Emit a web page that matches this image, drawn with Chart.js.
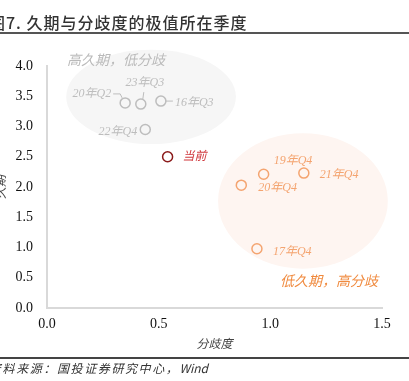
<!DOCTYPE html>
<html>
<head>
<meta charset="utf-8">
<script src="https://cdn.jsdelivr.net/npm/chart.js@4"></script>
<style>
  body { margin: 0; width: 409px; height: 381px; overflow: hidden; background: #fff; position: relative; }
  #chart { position: absolute; left: 0; top: 0; }
  .title { position: absolute; left: -11px; top: 10px; font: 500 16px "Noto Sans CJK SC"; letter-spacing: 1px; color: #333; white-space: nowrap; }
  .rule1 { position: absolute; left: 0; top: 32px; width: 409px; height: 2px; background: #555; }
  .rule2 { position: absolute; left: 0; top: 357px; width: 409px; height: 1.5px; background: #444; }
  .source { position: absolute; left: -11px; top: 359px; font: italic 12px "Noto Sans CJK SC"; letter-spacing: 1.6px; color: #333; white-space: nowrap; }
  .source span { letter-spacing: 0; }
</style>
</head>
<body>
<canvas id="chart" width="409" height="381"></canvas>
<div class="title">图7. 久期与分歧度的极值所在季度</div>
<div class="rule1"></div>
<div class="rule2"></div>
<div class="source">资料来源：国投证券研究中心，<span>Wind</span></div>
<script>
// high duration / low divergence quarters
const highLabels = ["20年Q2", "23年Q3", "16年Q3", "22年Q4"];
const highX = [0.35, 0.42, 0.51, 0.44];
const highY = [3.39, 3.37, 3.42, 2.95];

// low duration / high divergence quarters
const lowLabels = ["19年Q4", "21年Q4", "20年Q4", "17年Q4"];
const lowX = [0.97, 1.15, 0.87, 0.94];
const lowY = [2.21, 2.23, 2.03, 0.98];

const nowLabel = ["当前"];
const nowX = [0.54];
const nowY = [2.5];

const xTicks = [0, 0.5, 1.0, 1.5];
const yTicks = [0, 0.5, 1.0, 1.5, 2.0, 2.5, 3.0, 3.5, 4.0];

const GRAY = "#bdbdbd";
const ORANGE = "#f4a470";
const RED = "#8b1a1a";

// label offsets in px from the point: [dx, dy, align]
const labelPos = {
  "20年Q2": [-14, -9, "right"],
  "23年Q3": [4, -21, "center"],
  "16年Q3": [14, 2, "left"],
  "22年Q4": [-8, 2, "right"],
  "19年Q4": [10, -13, "left"],
  "21年Q4": [16, 2, "left"],
  "20年Q4": [17, 3, "left"],
  "17年Q4": [16, 3, "left"],
  "当前": [15, 0, "left"],
};
// small leader lines, px relative to point
const leaders = {
  "20年Q2": [[-12, -9], [-5, -9], [-3, -5]],
  "23年Q3": [[3, -12], [2, -5]],
  "16年Q3": [[5, 0], [12, 0]],
};

const toPts = (xs, ys) => xs.map((x, i) => ({ x: x, y: ys[i] }));

const backdrop = {
  id: "backdrop",
  beforeDraw(chart) {
    const { ctx, scales: { x, y } } = chart;
    const oval = (cx, cy, rx, ry, color) => {
      ctx.save();
      ctx.fillStyle = color;
      ctx.beginPath();
      ctx.ellipse(x.getPixelForValue(cx), y.getPixelForValue(cy),
        Math.abs(x.getPixelForValue(cx + rx) - x.getPixelForValue(cx)),
        Math.abs(y.getPixelForValue(cy + ry) - y.getPixelForValue(cy)), 0, 0, Math.PI * 2);
      ctx.fill();
      ctx.restore();
    };
    oval(0.466, 3.49, 0.38, 0.78, "#f6f6f6");
    oval(1.146, 1.77, 0.38, 1.12, "#fef5f1");
  },
  afterDatasetsDraw(chart) {
    const { ctx, scales: { x, y } } = chart;
    ctx.save();
    ctx.textBaseline = "middle";
    const put = (labels, xs, ys, color) => {
      labels.forEach((lab, i) => {
        const px = x.getPixelForValue(xs[i]);
        const py = y.getPixelForValue(ys[i]);
        const p = labelPos[lab];
        ctx.fillStyle = color;
        ctx.font = "italic 12px 'Liberation Serif', 'Noto Sans CJK SC'";
        ctx.textAlign = p[2];
        ctx.fillText(lab, px + p[0], py + p[1]);
        if (leaders[lab]) {
          ctx.strokeStyle = color;
          ctx.lineWidth = 1;
          ctx.beginPath();
          leaders[lab].forEach((q, j) => j ? ctx.lineTo(px + q[0], py + q[1]) : ctx.moveTo(px + q[0], py + q[1]));
          ctx.stroke();
        }
      });
    };
    put(highLabels, highX, highY, GRAY);
    put(lowLabels, lowX, lowY, ORANGE);
    put(nowLabel, nowX, nowY, "#d0393e");
    ctx.font = "italic 14px 'Noto Sans CJK SC'";
    ctx.textAlign = "left";
    ctx.fillStyle = "#bababa";
    ctx.fillText("高久期，低分歧", x.getPixelForValue(0.09), y.getPixelForValue(4.1));
    ctx.fillStyle = "#f08a3e";
    ctx.fillText("低久期，高分歧", x.getPixelForValue(1.043), y.getPixelForValue(0.446));
    ctx.restore();
  },
};

const pointStyle = (color) => ({
  pointRadius: 5,
  pointHoverRadius: 5,
  pointBorderWidth: 1.5,
  borderColor: color,
  backgroundColor: "rgba(0,0,0,0)",
});

new Chart(document.getElementById("chart"), {
  type: "scatter",
  data: {
    datasets: [
      { label: "高久期，低分歧", data: toPts(highX, highY), ...pointStyle(GRAY) },
      { label: "低久期，高分歧", data: toPts(lowX, lowY), ...pointStyle(ORANGE) },
      { label: "当前", data: toPts(nowX, nowY), ...pointStyle(RED) },
    ],
  },
  options: {
    responsive: false,
    animation: false,
    devicePixelRatio: 1,
    layout: { padding: { left: 0, top: 66, right: 27, bottom: 23 } },
    plugins: { legend: { display: false }, tooltip: { enabled: false } },
    scales: {
      x: {
        type: "linear",
        min: 0,
        max: 1.5,
        afterBuildTicks: (s) => { s.ticks = xTicks.map((v) => ({ value: v })); },
        afterFit: (s) => { s.height = 50; },
        grid: { display: false, drawTicks: false },
        border: { display: true, color: "#d9d9d9", width: 2 },
        ticks: {
          padding: 8,
          color: "#111",
          font: { family: "'Liberation Serif'", size: 14 },
          callback: (v) => Number(v).toFixed(1),
        },
        title: {
          display: true,
          text: "分歧度",
          color: "#444",
          padding: { top: 0, bottom: 7 },
          font: { family: "'Noto Sans CJK SC'", size: 12, style: "italic" },
        },
      },
      y: {
        type: "linear",
        min: 0,
        max: 4,
        afterBuildTicks: (s) => { s.ticks = yTicks.map((v) => ({ value: v })); },
        afterFit: (s) => { s.width = 47; },
        grid: { display: false, drawTicks: false },
        border: { display: true, color: "#d9d9d9", width: 2 },
        ticks: {
          padding: 14,
          color: "#111",
          font: { family: "'Liberation Serif'", size: 14 },
          callback: (v) => Number(v).toFixed(1),
        },
        title: {
          display: true,
          text: "久期",
          color: "#444",
          padding: { top: -6, bottom: 0 },
          font: { family: "'Noto Sans CJK SC'", size: 12, style: "italic", lineHeight: 1 },
        },
      },
    },
  },
  plugins: [backdrop],
});
</script>
</body>
</html>
